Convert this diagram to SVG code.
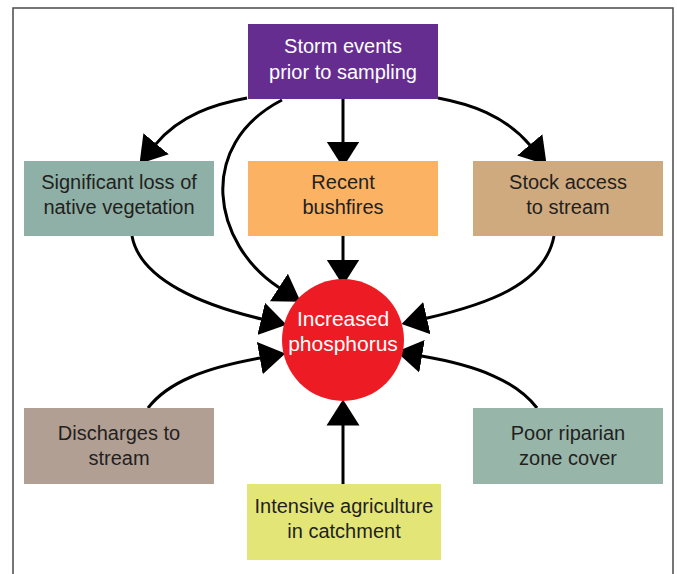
<svg xmlns="http://www.w3.org/2000/svg" width="677" height="574" viewBox="0 0 677 574">
<style>
  .lbl { font-family: "Liberation Sans", Arial, sans-serif; font-size: 20px; fill: #231f20; text-anchor: middle; }
  .wht { fill: #ffffff; }
  .big { font-size: 21px; }
  .conn { fill: none; stroke: #000000; stroke-width: 3; marker-end: url(#arrow); }
  .frame { fill: none; stroke: #4a4a4a; stroke-width: 1.5; }
</style>
<defs>
  <marker id="arrow" viewBox="0 -17 27 34" refX="0.5" refY="0" markerWidth="27" markerHeight="34" markerUnits="userSpaceOnUse" orient="auto">
    <path d="M0,-16.5 L26,0 L0,16.5 Z" fill="#000000"/>
  </marker>
</defs>
<rect x="0" y="0" width="677" height="574" fill="#ffffff"/>
<path class="frame" d="M13,580 V8 H673 V580"/>

<g id="connectors">
  <path class="conn" d="M343,99 V142"/>
  <path class="conn" d="M247,98 C215,104 180,115 155.8,144.1"/>
  <path class="conn" d="M438,98 C470,104 504.6,115.2 530.1,145.2"/>
  <path class="conn" d="M282,100 C195,145 212.4,244.2 279.3,287.8"/>
  <path class="conn" d="M343,236 V260"/>
  <path class="conn" d="M132,236 C140,280 203.3,305.3 261.7,319"/>
  <path class="conn" d="M554,236 C545,285 484.9,304.8 426.4,318.2"/>
  <path class="conn" d="M148,408 C168,382 205,368 260.3,358"/>
  <path class="conn" d="M537,408 C517,382 480,366 421.5,356.1"/>
  <path class="conn" d="M343,484 V425"/>
</g>

<g id="storm">
  <rect x="248" y="24" width="190" height="75" fill="#662d91"/>
  <text class="lbl wht" x="343" y="53">Storm events</text>
  <text class="lbl wht" x="343" y="79">prior to sampling</text>
</g>
<g id="vegetation">
  <rect x="24" y="161" width="190" height="75" fill="#8fb0a6"/>
  <text class="lbl" x="119" y="189">Significant loss of</text>
  <text class="lbl" x="119" y="214">native vegetation</text>
</g>
<g id="bushfires">
  <rect x="248" y="161" width="190" height="75" fill="#fbb263"/>
  <text class="lbl" x="343" y="189">Recent</text>
  <text class="lbl" x="343" y="214">bushfires</text>
</g>
<g id="stock">
  <rect x="473" y="161" width="190" height="75" fill="#d0aa7f"/>
  <text class="lbl" x="568" y="189">Stock access</text>
  <text class="lbl" x="568" y="214">to stream</text>
</g>
<g id="phosphorus">
  <circle cx="343" cy="340" r="61" fill="#ed1c24"/>
  <text class="lbl wht big" x="343" y="326">Increased</text>
  <text class="lbl wht big" x="343" y="351">phosphorus</text>
</g>
<g id="discharges">
  <rect x="24" y="408" width="190" height="76" fill="#b29f94"/>
  <text class="lbl" x="119" y="440">Discharges to</text>
  <text class="lbl" x="119" y="465">stream</text>
</g>
<g id="riparian">
  <rect x="473" y="408" width="190" height="76" fill="#98b5a9"/>
  <text class="lbl" x="568" y="440">Poor riparian</text>
  <text class="lbl" x="568" y="465">zone cover</text>
</g>
<g id="agriculture">
  <rect x="247" y="484" width="194" height="76" fill="#e3e676"/>
  <text class="lbl" x="344" y="513">Intensive agriculture</text>
  <text class="lbl" x="344" y="538">in catchment</text>
</g>
</svg>
